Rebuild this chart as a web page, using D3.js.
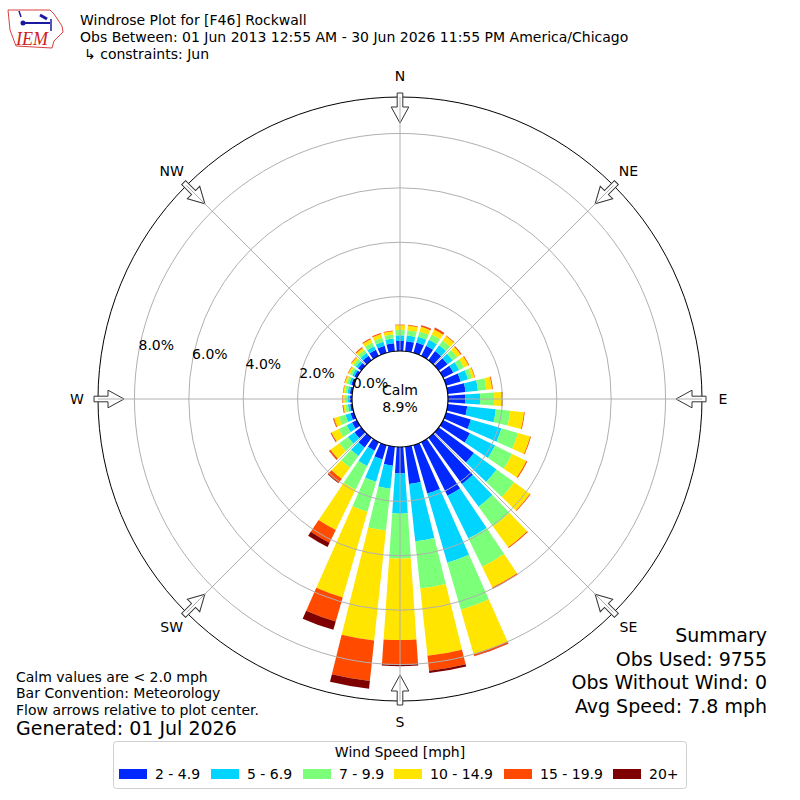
<!DOCTYPE html>
<html>
<head>
<meta charset="utf-8">
<script src="https://cdn.jsdelivr.net/npm/d3@7"></script>
<style>
  body { margin: 0; background: #fff; }
  svg { font-family: "DejaVu Sans", sans-serif; }
</style>
</head>
<body>
<div id="chart"></div>
<script>
// wind directions (bin centres, degrees from north)
const directions = d3.range(0, 360, 10);
const speedBins = ["2 - 4.9", "5 - 6.9", "7 - 9.9", "10 - 14.9", "15 - 19.9", "20+"];
const binColors = ["#0028ff", "#00d4ff", "#7cff79", "#ffe500", "#ff4a00", "#7f0000"];

// frequency (%) per direction for each speed bin
const pct2to5 = [0.37,0.37,0.40,0.42,0.42,0.40,0.42,0.56,0.66,0.63,0.72,0.95,1.10,1.60,2.10,2.20,1.85,1.38,
                 0.97,0.70,0.55,0.35,0.44,0.31,0.20,0.13,0.08,0.09,0.09,0.10,0.11,0.15,0.20,0.25,0.27,0.30];
const pct5to7 = [0.21,0.21,0.22,0.24,0.26,0.24,0.24,0.28,0.46,0.55,1.06,1.17,1.03,1.03,1.04,1.75,2.65,2.12,
                 1.48,0.85,0.85,0.63,0.39,0.30,0.22,0.19,0.08,0.08,0.08,0.08,0.08,0.10,0.13,0.15,0.16,0.17];
const pct7to10 = [0.20,0.20,0.20,0.22,0.22,0.20,0.20,0.15,0.31,0.52,0.53,0.63,0.70,0.80,0.90,1.15,1.80,1.74,
                  1.65,1.55,1.15,0.97,0.53,0.39,0.33,0.25,0.10,0.10,0.10,0.10,0.10,0.11,0.13,0.15,0.15,0.15];
const pct10to15 = [0.17,0.17,0.18,0.20,0.20,0.16,0.18,0.10,0.21,0.27,0.51,0.47,0.58,0.72,0.94,0.85,1.70,2.49,
                   3.00,4.07,3.28,1.65,0.51,0.40,0.29,0.19,0.07,0.07,0.06,0.07,0.07,0.09,0.10,0.13,0.14,0.12];
const pct15to20 = [0.02,0.03,0.05,0.07,0.03,0.04,0.03,0.02,0.03,0.05,0.03,0.03,0.04,0.03,0.04,0.05,0.07,0.55,
                   0.90,1.49,0.92,0.52,0.18,0.06,0.03,0.03,0.02,0.02,0.02,0.02,0.02,0.02,0.04,0.04,0.04,0.03];
const pct20up = [0.00,0.00,0.01,0.01,0.00,0.00,0.00,0.00,0.00,0.00,0.00,0.00,0.00,0.00,0.00,0.00,0.01,0.09,
                 0.06,0.29,0.32,0.17,0.02,0.01,0.01,0.01,0.01,0.00,0.00,0.00,0.00,0.00,0.00,0.00,0.00,0.00];

const ringTicks = [0, 2, 4, 6, 8];
const compass = [["N", 0], ["NE", 45], ["E", 90], ["SE", 135], ["S", 180], ["SW", 225], ["W", 270], ["NW", 315]];
const calmPct = 8.9;
const summaryLines = ["Summary", "Obs Used: 9755", "Obs Without Wind: 0", "Avg Speed: 7.8 mph"];
const noteLines = ["Calm values are < 2.0 mph", "Bar Convention: Meteorology", "Flow arrows relative to plot center."];

const width = 800, height = 800;
const cx = 400, cy = 399;
const calmR = 48, outerR = 302;

const svg = d3.select("#chart").append("svg")
  .attr("width", width)
  .attr("height", height);

const rScale = d3.scaleLinear().domain([0, 9.34]).range([calmR, outerR]);
const rad = d => d * Math.PI / 180;

// table for the stack
const series = [pct2to5, pct5to7, pct7to10, pct10to15, pct15to20, pct20up];
const table = directions.map((dir, i) => {
  const row = { dir: dir };
  speedBins.forEach((b, j) => row[b] = series[j][i]);
  return row;
});
const stacked = d3.stack().keys(speedBins)(table);

const plot = svg.append("g").attr("transform", `translate(${cx},${cy})`);

// outer frame
plot.append("circle").attr("r", outerR).attr("fill", "none").attr("stroke", "#000").attr("stroke-width", 1);

// bars
const halfOpen = 3.9;
const arc = d3.arc()
  .innerRadius(d => rScale(d[0]))
  .outerRadius(d => rScale(d[1]))
  .startAngle(d => rad(d.data.dir - halfOpen))
  .endAngle(d => rad(d.data.dir + halfOpen));

plot.selectAll("g.layer")
  .data(stacked)
  .enter().append("g")
  .attr("class", "layer")
  .attr("fill", (d, i) => binColors[i])
  .selectAll("path")
  .data(d => d.filter(s => s[1] - s[0] > 0))
  .enter().append("path")
  .attr("d", arc);

// grid rings and spokes, on top of bars
plot.selectAll("circle.ring")
  .data(ringTicks.filter(t => t > 0))
  .enter().append("circle")
  .attr("class", "ring")
  .attr("r", d => rScale(d))
  .attr("fill", "none")
  .attr("stroke", "#b0b0b0")
  .attr("stroke-width", 1);

// direction arrows
const arrowPath = "M-2.8,-306L2.8,-306L2.8,-292L8.8,-292L0,-276L-8.8,-292L-2.8,-292Z";
plot.selectAll("path.arrow")
  .data(compass)
  .enter().append("path")
  .attr("class", "arrow")
  .attr("d", arrowPath)
  .attr("transform", d => `rotate(${d[1]})`)
  .attr("fill", "#fff")
  .attr("stroke", "#333")
  .attr("stroke-width", 1);

plot.selectAll("line.spoke")
  .data(compass)
  .enter().append("line")
  .attr("class", "spoke")
  .attr("x1", d => calmR * Math.sin(rad(d[1])))
  .attr("y1", d => -calmR * Math.cos(rad(d[1])))
  .attr("x2", d => outerR * Math.sin(rad(d[1])))
  .attr("y2", d => -outerR * Math.cos(rad(d[1])))
  .attr("stroke", "#b0b0b0")
  .attr("stroke-width", 1);

// calm circle
plot.append("circle").attr("r", calmR).attr("fill", "#fff").attr("stroke", "#000").attr("stroke-width", 1.2);
plot.append("text").attr("x", 0).attr("y", -4).attr("text-anchor", "middle")
  .style("font-size", "14px").text("Calm");
plot.append("text").attr("x", 0).attr("y", 13).attr("text-anchor", "middle")
  .style("font-size", "14px").text(calmPct.toFixed(1) + "%");

// ring labels
const labelAng = rad(280);
plot.selectAll("text.rlabel")
  .data(ringTicks)
  .enter().append("text")
  .attr("class", "rlabel")
  .attr("x", d => rScale(d) * Math.sin(labelAng))
  .attr("y", d => -rScale(d) * Math.cos(labelAng) - 3)
  .style("font-size", "14px")
  .text(d => d.toFixed(1) + "%");

// compass labels
plot.selectAll("text.compass")
  .data(compass)
  .enter().append("text")
  .attr("class", "compass")
  .attr("x", d => 323 * Math.sin(rad(d[1])))
  .attr("y", d => -323 * Math.cos(rad(d[1])))
  .attr("text-anchor", "middle")
  .attr("dominant-baseline", "central")
  .style("font-size", "14px")
  .text(d => d[0]);

// titles
const titles = svg.append("g").style("font-size", "14px");
titles.append("text").attr("x", 80).attr("y", 25).text("Windrose Plot for [F46] Rockwall");
titles.append("text").attr("x", 80).attr("y", 42)
  .text("Obs Between: 01 Jun 2013 12:55 AM - 30 Jun 2026 11:55 PM America/Chicago");
titles.append("text").attr("x", 84).attr("y", 59).text("\u21b3 constraints: Jun");

// IEM logo
const logo = svg.append("g");
logo.append("path")
  .attr("d", "M8,10L50,10L54,14L58,20L62,26L63,32L58,37L54,41L52,48L16,46L13,38L10,30L9,20Z")
  .attr("fill", "none").attr("stroke", "#d84040").attr("stroke-width", 1);
logo.append("line").attr("x1", 22).attr("y1", 23).attr("x2", 50).attr("y2", 23)
  .attr("stroke", "#1a1aa0").attr("stroke-width", 2);
logo.append("circle").attr("cx", 23).attr("cy", 23).attr("r", 2.5).attr("fill", "#1a1aa0");
logo.append("line").attr("x1", 40).attr("y1", 15).attr("x2", 47).attr("y2", 19)
  .attr("stroke", "#1a1aa0").attr("stroke-width", 3);
logo.append("line").attr("x1", 51).attr("y1", 19).attr("x2", 51).attr("y2", 31)
  .attr("stroke", "#1a1aa0").attr("stroke-width", 1.5);
logo.append("line").attr("x1", 19).attr("y1", 11).attr("x2", 21).attr("y2", 17)
  .attr("stroke", "#1a1aa0").attr("stroke-width", 1.5);
logo.append("text").attr("x", 16).attr("y", 45)
  .style("font-family", "'Liberation Serif', serif").style("font-style", "italic")
  .style("font-size", "18px").attr("fill", "#d02020").text("IEM");

// notes bottom-left
svg.selectAll("text.note")
  .data(noteLines)
  .enter().append("text")
  .attr("class", "note")
  .attr("x", 16)
  .attr("y", (d, i) => 682 + i * 16.3)
  .style("font-size", "14px")
  .text(d => d);
svg.append("text").attr("x", 16).attr("y", 735).style("font-size", "19px").text("Generated: 01 Jul 2026");

// summary bottom-right
svg.selectAll("text.summary")
  .data(summaryLines)
  .enter().append("text")
  .attr("class", "summary")
  .attr("x", 767)
  .attr("y", (d, i) => 642 + i * 23.5)
  .attr("text-anchor", "end")
  .style("font-size", "19px")
  .text(d => d);

// legend
const legend = svg.append("g");
legend.append("rect").attr("x", 113.5).attr("y", 741.5).attr("width", 573).attr("height", 47)
  .attr("rx", 3).attr("fill", "#fff").attr("stroke", "#d0d0d0");
legend.append("text").attr("x", 400).attr("y", 757).attr("text-anchor", "middle")
  .style("font-size", "14px").text("Wind Speed [mph]");
const legendX = [119, 211, 303, 394, 504, 613];
const item = legend.selectAll("g.item")
  .data(speedBins)
  .enter().append("g")
  .attr("class", "item")
  .attr("transform", (d, i) => `translate(${legendX[i]},0)`);
item.append("rect").attr("x", 0).attr("y", 769).attr("width", 28).attr("height", 10)
  .attr("fill", (d, i) => binColors[i]);
item.append("text").attr("x", 36).attr("y", 779).style("font-size", "14px").text(d => d);
</script>
</body>
</html>
